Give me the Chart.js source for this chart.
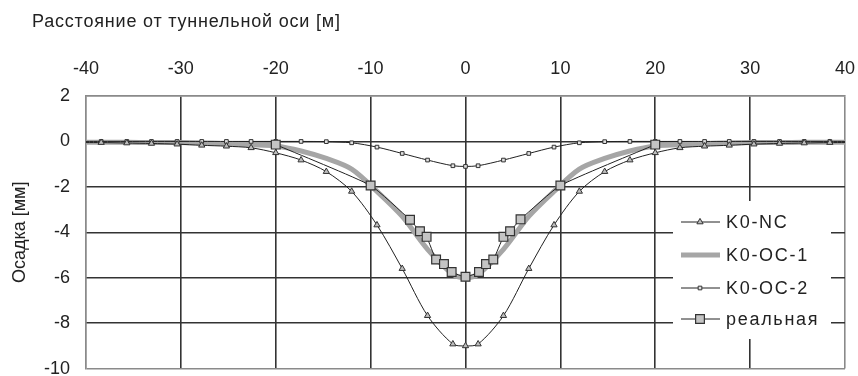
<!DOCTYPE html>
<html>
<head>
<meta charset="utf-8">
<script src="https://cdn.jsdelivr.net/npm/chart.js@4.4.1/dist/chart.umd.min.js"></script>
<style>
html, body { margin: 0; padding: 0; background: #fff; overflow: hidden; }
#wrap { width: 858px; height: 376px; position: relative; }
</style>
</head>
<body>
<div id="wrap"><canvas id="osadka"></canvas></div>
<script>
// узлы модели по горизонтали, м
const nodeX = [-40, -38.4, -35.7, -33.1, -30.4, -27.8, -25.2, -22.6, -20, -17.33, -14.67, -12, -9.33, -6.67, -4, -1.33,
               0, 1.33, 4, 6.67, 9.33, 12, 14.67, 17.33, 20, 22.6, 25.2, 27.8, 30.4, 33.1, 35.7, 38.4, 40];
const k0nc = [-0.05, -0.05, -0.07, -0.09, -0.12, -0.17, -0.21, -0.28, -0.5, -0.82, -1.33, -2.2, -3.68, -5.6, -7.67, -8.92,
              -9.0, -8.92, -7.67, -5.6, -3.68, -2.2, -1.33, -0.82, -0.5, -0.28, -0.21, -0.17, -0.12, -0.09, -0.07, -0.05, -0.05];
const k0oc1 = [-0.04, -0.04, -0.04, -0.05, -0.05, -0.07, -0.1, -0.15, -0.2, -0.42, -0.75, -1.22, -2.2, -3.3, -4.75, -5.85,
               -6.0, -5.85, -4.75, -3.3, -2.2, -1.22, -0.75, -0.42, -0.2, -0.15, -0.1, -0.07, -0.05, -0.05, -0.04, -0.04, -0.04];
const k0oc2 = [0, 0, 0, 0, 0, 0, 0, 0, 0, 0, -0.01, -0.06, -0.25, -0.53, -0.82, -1.07,
               -1.1, -1.07, -0.82, -0.53, -0.25, -0.06, -0.01, 0, 0, 0, 0, 0, 0, 0, 0, 0, 0];
// измерения
const realX = [-20, -10, -5.85, -4.8, -4.1, -3.1, -2.27, -1.46, 0, 1.42, 2.16, 2.93, 4.0, 4.7, 5.8, 10, 20];
const realY = [-0.14, -1.94, -3.45, -3.95, -4.2, -5.2, -5.4, -5.75, -5.96, -5.75, -5.4, -5.2, -4.2, -3.95, -3.43, -1.94, -0.14];

const seriesNames = ['K0-NC', 'K0-OC-1', 'K0-OC-2', 'реальная'];
const xTicks = [-40, -30, -20, -10, 0, 10, 20, 30, 40];
const yTicks = [2, 0, -2, -4, -6, -8, -10];

const FONT = 'Liberation Sans, Arial, sans-serif';
const pts = (xs, ys) => xs.map((x, i) => ({ x, y: ys[i] }));
const hideEdge = ctx => Math.abs(nodeX[ctx.dataIndex]) === 40;

const datasets = [
    {
        label: seriesNames[3], data: pts(realX, realY), order: 0,
        borderColor: '#222', borderWidth: 1, tension: 0.15,
        pointStyle: 'rect', pointRadius: 6.2, pointBackgroundColor: '#c4c4c4',
        pointBorderColor: '#333', pointBorderWidth: 1.2
    },
    {
        label: seriesNames[0], data: pts(nodeX, k0nc), order: 1,
        borderColor: '#222', borderWidth: 1, tension: 0.3,
        pointStyle: 'triangle', pointRadius: ctx => hideEdge(ctx) ? 0 : 3.6,
        pointBackgroundColor: '#bdbdbd', pointBorderColor: '#333', pointBorderWidth: 1
    },
    {
        label: seriesNames[2], data: pts(nodeX, k0oc2), order: 2,
        borderColor: '#222', borderWidth: 1, tension: 0.3,
        pointStyle: 'rect', pointRadius: ctx => hideEdge(ctx) ? 0 : 2.6,
        pointBackgroundColor: '#e0e0e0', pointBorderColor: '#333', pointBorderWidth: 1
    },
    {
        label: seriesNames[1], data: pts(nodeX, k0oc1), order: 3,
        borderColor: '#a6a6a6', borderWidth: 5, tension: 0.3, pointRadius: 0
    }
];

// заголовок сверху слева
const topTitle = {
    id: 'topTitle',
    afterDraw(chart) {
        const c = chart.ctx;
        c.save();
        c.letterSpacing = '0.8px';
        c.font = '18px ' + FONT;
        c.fillStyle = '#222';
        c.textBaseline = 'middle';
        c.fillText('Расстояние от туннельной оси [м]', 32, 22);
        c.restore();
    }
};

// легенда внутри поля графика
const legendRows = [
    { ds: 1, y: 222, r: 3.6 },
    { ds: 3, y: 255, r: 0 },
    { ds: 2, y: 288, r: 2.6 },
    { ds: 0, y: 319, r: 6.2 }
];
const boxLegend = {
    id: 'boxLegend',
    beforeDatasetsDraw(chart) {
        const c = chart.ctx;
        c.save();
        c.fillStyle = '#fff';
        c.fillRect(673, 201, 158, 138);
        c.letterSpacing = '1.7px';
        c.font = '18px ' + FONT;
        c.textBaseline = 'middle';
        legendRows.forEach(row => {
            const d = datasets[row.ds];
            c.strokeStyle = d.borderColor;
            c.lineWidth = d.borderWidth;
            c.beginPath();
            c.moveTo(681, row.y);
            c.lineTo(720, row.y);
            c.stroke();
            if (row.r) {
                c.fillStyle = d.pointBackgroundColor;
                c.strokeStyle = d.pointBorderColor;
                c.lineWidth = d.pointBorderWidth;
                Chart.helpers.drawPoint(c, {
                    pointStyle: d.pointStyle, radius: row.r, rotation: 0, borderWidth: d.pointBorderWidth
                }, 700, row.y);
            }
            c.fillStyle = '#222';
            c.fillText(d.label, 726, row.y + 1);
        });
        c.restore();
    }
};

const GRID = '#333';
const EDGE = '#8a8a8a';

new Chart(document.getElementById('osadka'), {
    type: 'line',
    data: { datasets },
    options: {
        responsive: true,
        maintainAspectRatio: false,
        animation: false,
        layout: { padding: { top: 50, right: 13, bottom: 6, left: 0 } },
        plugins: { legend: { display: false }, tooltip: { enabled: false } },
        scales: {
            x: {
                type: 'linear', position: 'top', min: -40, max: 40,
                afterBuildTicks: s => { s.ticks = xTicks.map(v => ({ value: v })); },
                afterFit: s => { s.height = 46; s.paddingLeft = 0; s.paddingRight = 0; },
                grid: { drawTicks: false, lineWidth: 1.6, color: ctx => Math.abs(ctx.tick.value) === 40 ? EDGE : GRID },
                border: { color: EDGE, width: 1.4 },
                ticks: { padding: 16, color: '#222', font: { family: FONT, size: 18 } }
            },
            y: {
                min: -10, max: 2,
                afterBuildTicks: s => { s.ticks = yTicks.map(v => ({ value: v })); },
                afterFit: s => { s.width = 86; s.paddingTop = 0; s.paddingBottom = 0; },
                grid: { drawTicks: false, lineWidth: 1.6, color: ctx => ctx.tick.value === -10 || ctx.tick.value === 2 ? EDGE : GRID },
                border: { color: EDGE, width: 1.4 },
                ticks: { padding: 16, color: '#222', font: { family: FONT, size: 18 } },
                title: { display: true, text: 'Осадка [мм]', color: '#222', padding: { top: 9, bottom: 0 }, font: { family: FONT, size: 18 } }
            }
        }
    },
    plugins: [topTitle, boxLegend]
});
</script>
</body>
</html>
